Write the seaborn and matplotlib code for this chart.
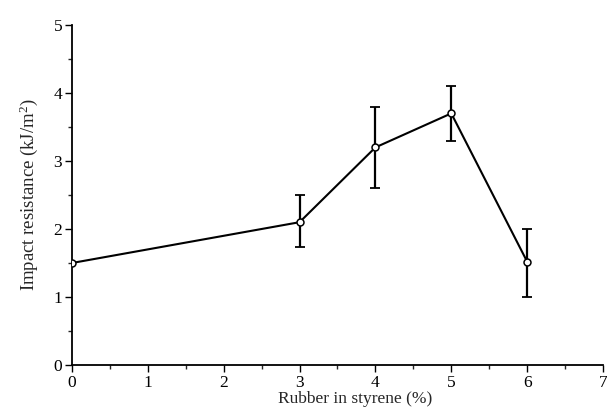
import matplotlib
matplotlib.use("Agg")
import matplotlib.pyplot as plt
import seaborn as sns
import numpy as np
import pandas as pd

rubber = [0, 3, 4, 5, 6]
impact = [1.5, 2.1, 3.2, 3.7, 1.52]
err_low = [1.5, 1.73, 2.6, 3.3, 1.0]
err_high = [1.5, 2.5, 3.8, 4.1, 2.0]

sns.set_style("ticks")
plt.rcParams['font.family'] = ['Liberation Serif', 'DejaVu Serif']
plt.rcParams['mathtext.fontset'] = 'custom'
plt.rcParams['mathtext.rm'] = 'Liberation Serif'

fig = plt.figure(figsize=(6.07, 4.09), dpi=100)
ax = fig.add_axes([0.1186, 0.1076, 0.8748, 0.8313])

df = pd.DataFrame({"x": rubber, "y": impact})
imp = np.array(impact)
lo = imp - np.array(err_low)
hi = np.array(err_high) - imp
ax.errorbar(rubber[1:], impact[1:], yerr=[lo[1:], hi[1:]], fmt="none",
            ecolor="black", elinewidth=1.6, capsize=3.5, capthick=1.3, zorder=2)
sns.lineplot(data=df, x="x", y="y", ax=ax, color="black", linewidth=1.5,
             marker="o", markersize=5, markerfacecolor="white",
             markeredgecolor="black", markeredgewidth=1.1, zorder=3)

ax.set_xlim(0, 7)
ax.set_ylim(0, 5)
ax.set_xticks(range(0, 8))
ax.set_yticks(range(0, 6))
ax.set_xticks(np.arange(0.5, 7, 1), minor=True)
ax.set_yticks(np.arange(0.5, 5, 1), minor=True)
ax.tick_params(which="major", direction="out", length=5, width=1, labelsize=12.5, pad=2, colors="black")
ax.tick_params(which="minor", direction="out", length=3, width=1)
ax.set_xlabel("Rubber in styrene (%)", fontsize=12.5)
ax.xaxis.set_label_coords(0.533, -0.077, transform=ax.transAxes)
ax.xaxis.label.set_va("top")
ax.set_ylabel("Impact resistance (kJ/m$\\mathregular{^2}$)", fontsize=13.5, labelpad=10)
for s in ["top", "right"]:
    ax.spines[s].set_visible(False)
for s in ["left", "bottom"]:
    ax.spines[s].set_linewidth(1.3)
    ax.spines[s].set_color("black")

fig.savefig("out.png", dpi=100)
